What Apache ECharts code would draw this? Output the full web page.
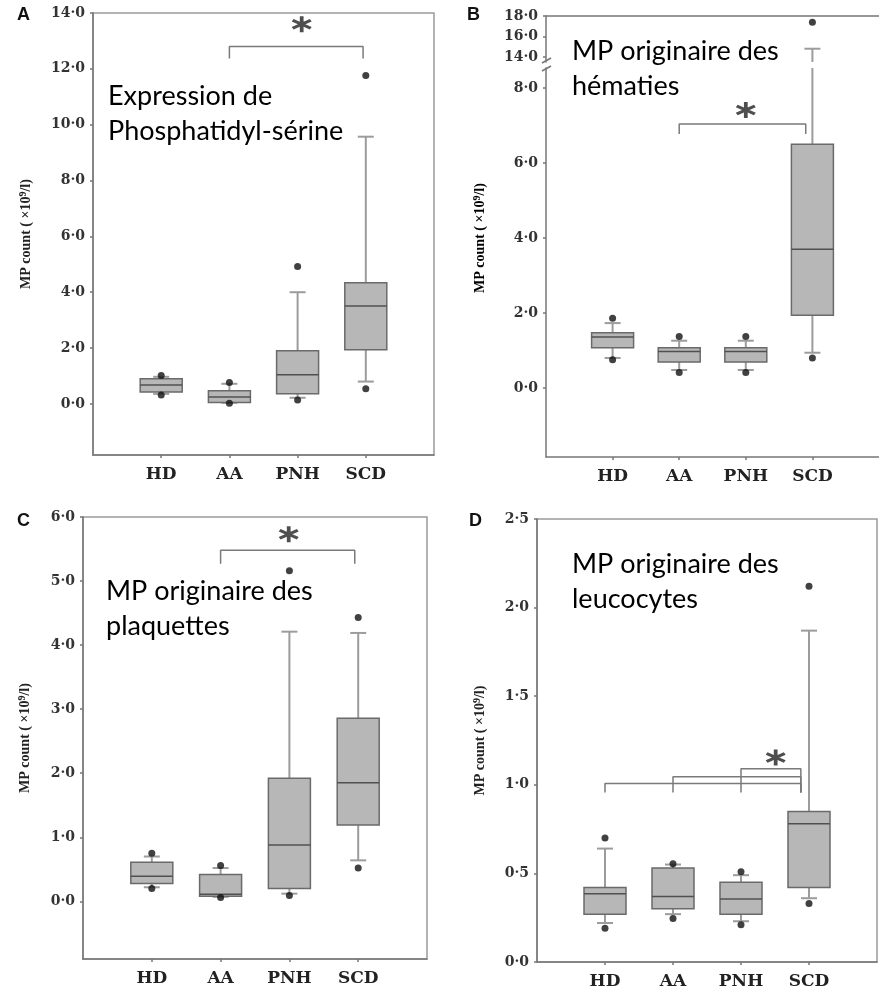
<!DOCTYPE html>
<html><head><meta charset="utf-8">
<script src="https://cdn.jsdelivr.net/npm/echarts@6/dist/echarts.min.js"></script>
<style>html,body{margin:0;padding:0;background:#fff}#c{width:879px;height:992px}</style>
</head><body><div id="c"></div>
<script>
// ---------- data ----------
const categories = ['HD', 'AA', 'PNH', 'SCD'];
// each box: [lower whisker, Q1, median, Q3, upper whisker]
const boxA = [[0.36, 0.43, 0.68, 0.90, 0.97], [0.04, 0.05, 0.25, 0.47, 0.72], [0.22, 0.36, 1.04, 1.90, 4.00], [0.80, 1.94, 3.51, 4.34, 9.57]];
const boxB = [[0.80, 1.07, 1.36, 1.47, 1.73], [0.48, 0.69, 0.97, 1.07, 1.26], [0.48, 0.69, 0.97, 1.07, 1.26], [0.94, 1.94, 3.70, 6.50, 14.80]];
const boxC = [[0.22, 0.28, 0.39, 0.61, 0.70], [0.07, 0.08, 0.11, 0.42, 0.52], [0.12, 0.20, 0.88, 1.92, 4.21], [0.64, 1.19, 1.85, 2.86, 4.19]];
const boxD = [[0.22, 0.27, 0.385, 0.42, 0.64], [0.27, 0.30, 0.37, 0.53, 0.55], [0.23, 0.27, 0.355, 0.45, 0.49], [0.36, 0.42, 0.78, 0.85, 1.87]];
// outlying points per category
const outA = [[1.02, 0.32], [0.77, 0.02], [4.92, 0.14], [11.76, 0.54]];
const outB = [[1.86, 0.75], [1.37, 0.41], [1.37, 0.41], [17.4, 0.80]];
const outC = [[0.75, 0.20], [0.56, 0.06], [5.16, 0.09], [4.43, 0.52]];
const outD = [[0.70, 0.19], [0.555, 0.245], [0.51, 0.21], [2.12, 0.33]];
// significance brackets (category position, value)
const bracketsA = [[[2, 12.37], [2, 12.8], [3.96, 12.8], [3.96, 12.37]]];
const bracketsB = [[[2, 6.77], [2, 7.04], [3.9, 7.04], [3.9, 6.77]]];
const bracketsC = [[[2, 5.27], [2, 5.48], [3.95, 5.48], [3.95, 5.27]]];
const bracketsD = [
  [[1, 0.956], [1, 1.007], [3.88, 1.007], [3.88, 0.956]],
  [[2, 0.956], [2, 1.046], [3.88, 1.046], [3.88, 0.956]],
  [[3, 0.956], [3, 1.09], [3.88, 1.09], [3.88, 0.956]]
];
const starA = [3.06, 13.6];
const starB = [3.0, 7.41];
const starC = [2.99, 5.73];
const starD = [3.51, 1.154];
const ticksA = [0, 2, 4, 6, 8, 10, 12, 14];
const ticksBLow = [0, 2, 4, 6, 8];
const ticksBHigh = [14, 16, 18];
const ticksC = [0, 1, 2, 3, 4, 5, 6];
const ticksD = [0, 0.5, 1, 1.5, 2, 2.5];
const titles = ['Expression de\nPhosphatidyl-sérine', 'MP originaire des\nhématies', 'MP originaire des\nplaquettes', 'MP originaire des\nleucocytes'];
const panelLetters = ['A', 'B', 'C', 'D'];
const yName = '{a|MP count ( ×10}{s|9}{a|/l)}';

// ---------- helpers ----------
const SERIF = 'DejaVu Serif';
const nameRich = {
  a: { fontFamily: 'Liberation Serif', fontWeight: 'bold', fontSize: 14, color: '#222', lineHeight: 16 },
  s: { fontFamily: 'Liberation Serif', fontWeight: 'bold', fontSize: 10, color: '#222', verticalAlign: 'top', lineHeight: 10 }
};
const fmt = v => v.toFixed(1).replace('.', '·');
const boxData = b => b.map((v, i) => [i + 1].concat(v));
const outData = o => { const r = []; o.forEach((v, i) => v.forEach(y => r.push([i + 1, y]))); return r; };

function renderBox(params, api) {
  const x = api.value(0);
  const pLo = api.coord([x, api.value(1)]);
  const pQ1 = api.coord([x, api.value(2)]);
  const pMd = api.coord([x, api.value(3)]);
  const pQ3 = api.coord([x, api.value(4)]);
  const pHi = api.coord([x, api.value(5)]);
  const cx = pLo[0], bw = 42, cw = 16;
  const ws = { stroke: '#9c9c9c', lineWidth: 2 };
  return {
    type: 'group', children: [
      { type: 'line', shape: { x1: cx, y1: pQ3[1], x2: cx, y2: pHi[1] }, style: ws },
      { type: 'line', shape: { x1: cx, y1: pQ1[1], x2: cx, y2: pLo[1] }, style: ws },
      { type: 'line', shape: { x1: cx - cw / 2, y1: pHi[1], x2: cx + cw / 2, y2: pHi[1] }, style: ws },
      { type: 'line', shape: { x1: cx - cw / 2, y1: pLo[1], x2: cx + cw / 2, y2: pLo[1] }, style: ws },
      { type: 'rect', shape: { x: cx - bw / 2, y: pQ3[1], width: bw, height: pQ1[1] - pQ3[1] }, style: { fill: '#b7b7b7', stroke: '#6a6a6a', lineWidth: 1.5 } },
      { type: 'line', shape: { x1: cx - bw / 2, y1: pMd[1], x2: cx + bw / 2, y2: pMd[1] }, style: { stroke: '#505050', lineWidth: 1.5 } }
    ]
  };
}

const axisLineStyle = { color: '#777', width: 1.5 };
function xAx(g, withLabels, pos) {
  return {
    type: 'value', gridIndex: g, min: 0, max: 5, position: pos || 'bottom',
    axisLine: { show: true, onZero: false, lineStyle: axisLineStyle },
    axisTick: { show: withLabels, customValues: [1, 2, 3, 4], length: 3, lineStyle: axisLineStyle },
    axisLabel: { show: withLabels, customValues: [1, 2, 3, 4], formatter: v => categories[v - 1] || '', fontFamily: SERIF, fontWeight: 'bold', fontSize: 17, color: '#222', margin: 11 },
    splitLine: { show: false }
  };
}
function yAx(g, min, max, ticks, name, gap) {
  const o = {
    type: 'value', gridIndex: g, min: min, max: max,
    axisLine: { show: true, onZero: false, lineStyle: axisLineStyle },
    axisTick: { show: true, customValues: ticks, length: 3, lineStyle: axisLineStyle },
    axisLabel: { customValues: ticks, formatter: fmt, fontFamily: SERIF, fontWeight: 'bold', fontSize: 14, color: '#333', margin: 8 },
    splitLine: { show: false }
  };
  if (name) {
    o.name = name; o.nameLocation = 'middle'; o.nameRotate = 90; o.nameGap = gap;
    o.nameTextStyle = { rich: nameRich };
  }
  return o;
}

const star = 'path://M-1.8,-10L1.8,-10L1.8,10L-1.8,10Z M7.76,-6.56L9.56,-3.44L-7.76,6.56L-9.56,3.44Z M9.56,3.44L7.76,6.56L-9.56,-3.44L-7.76,-6.56Z';

const series = [];
function addPanel(g, box, out, brackets, st) {
  series.push({ type: 'custom', xAxisIndex: g, yAxisIndex: g, renderItem: renderBox, data: boxData(box), clip: true, silent: true, encode: { x: 0, y: [1, 2, 3, 4, 5] }, z: 2 });
  series.push({ type: 'scatter', xAxisIndex: g, yAxisIndex: g, data: outData(out), symbol: 'circle', symbolSize: 7, itemStyle: { color: '#111' }, clip: true, silent: true, z: 3 });
  if (brackets) brackets.forEach(b => series.push({ type: 'line', xAxisIndex: g, yAxisIndex: g, data: b, symbol: 'none', lineStyle: { color: '#7a7a7a', width: 1.5 }, silent: true, z: 4 }));
  if (st) series.push({ type: 'scatter', xAxisIndex: g, yAxisIndex: g, data: [st], symbol: star, symbolSize: [20, 16], itemStyle: { color: '#222' }, silent: true, z: 5 });
}
addPanel(0, boxA, outA, bracketsA, starA);
addPanel(1, boxB, outB, null, null);
addPanel(2, boxB, outB, bracketsB, starB);
addPanel(3, boxC, outC, bracketsC, starC);
addPanel(4, boxD, outD, bracketsD, starD);

const frame = { show: true, borderColor: '#9a9a9a', borderWidth: 1.5, backgroundColor: 'transparent' };
const titleStyle = { fontFamily: 'Lato', fontSize: 27, fill: '#000', lineHeight: 35 };
const letterStyle = { fontFamily: 'Liberation Sans', fontWeight: 'bold', fontSize: 18, fill: '#111' };

const option = {
  animation: false,
  backgroundColor: '#fff',
  grid: [
    Object.assign({ left: 93, top: 13, right: 445, bottom: 537 }, frame),
    { left: 546, top: 16, right: -7, height: 46 },
    { left: 546, top: 68, right: -7, bottom: 535 },
    Object.assign({ left: 83, top: 517, right: 452, bottom: 33 }, frame),
    Object.assign({ left: 537, top: 519, right: 2, bottom: 30 }, frame)
  ],
  xAxis: [xAx(0, true), xAx(1, false, 'top'), xAx(2, true), xAx(3, true), xAx(4, true)],
  yAxis: [
    yAx(0, -1.83, 14, ticksA, yName, 59),
    yAx(1, 13.5, 18, ticksBHigh),
    yAx(2, -1.84, 8.53, ticksBLow),
    yAx(3, -0.9, 6, ticksC, yName, 50),
    yAx(4, 0, 2.5, ticksD, yName, 49)
  ],
  series: series,
  graphic: [
    { type: 'text', x: 108, y: 79, style: Object.assign({ text: titles[0] }, titleStyle) },
    { type: 'text', x: 572, y: 34, style: Object.assign({ text: titles[1] }, titleStyle) },
    { type: 'text', x: 106, y: 574, style: Object.assign({ text: titles[2] }, titleStyle) },
    { type: 'text', x: 572, y: 547, style: Object.assign({ text: titles[3] }, titleStyle) },
    { type: 'text', x: 17, y: 6, style: Object.assign({ text: panelLetters[0] }, letterStyle) },
    { type: 'text', x: 467, y: 6, style: Object.assign({ text: panelLetters[1] }, letterStyle) },
    { type: 'text', x: 17, y: 512, style: Object.assign({ text: panelLetters[2] }, letterStyle) },
    { type: 'text', x: 469, y: 512, style: Object.assign({ text: panelLetters[3] }, letterStyle) },
    { type: 'text', x: 480, y: 238, rotation: Math.PI / 2, style: { text: yName, rich: nameRich, align: 'center', verticalAlign: 'middle' } },
    { type: 'line', shape: { x1: 542, y1: 63, x2: 551, y2: 58 }, style: { stroke: '#777', lineWidth: 1.5 } },
    { type: 'line', shape: { x1: 542, y1: 71, x2: 551, y2: 66 }, style: { stroke: '#777', lineWidth: 1.5 } }
  ]
};
const chart = echarts.init(document.getElementById('c'));
chart.setOption(option);
</script>
</body></html>
